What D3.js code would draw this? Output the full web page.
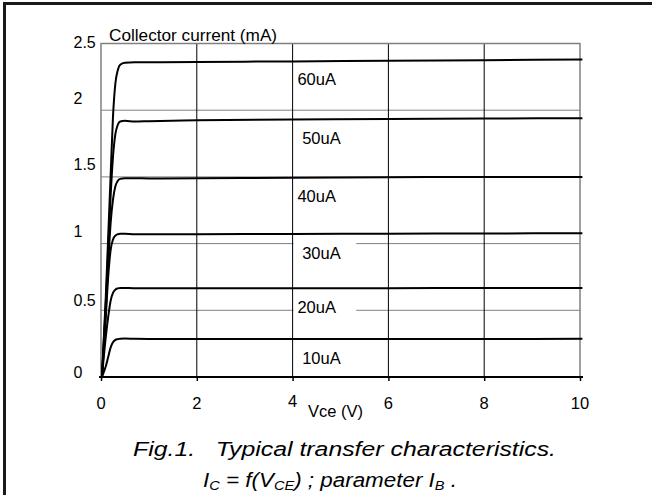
<!DOCTYPE html>
<html>
<head>
<meta charset="utf-8">
<script src="https://cdn.jsdelivr.net/npm/d3@7"></script>
<style>
  html, body { margin: 0; padding: 0; background: #fff; }
  text { font-family: "Liberation Sans", Arial, sans-serif; fill: #000; }
</style>
</head>
<body>
<div id="app"></div>
<script>
// Vce sample points (V) shared by every curve
const vce = [0.02, 0.1, 0.15, 0.2, 0.25, 0.3, 0.35, 0.4, 0.5, 0.7, 1, 2, 4, 6, 8, 10.05];

// Collector current (mA) per base current
const ic10 = [0, 0.08, 0.15, 0.22, 0.26, 0.278, 0.284, 0.287, 0.288, 0.286, 0.285, 0.285, 0.285, 0.285, 0.285, 0.286];
const ic20 = [0, 0.3, 0.45, 0.57, 0.63, 0.655, 0.664, 0.668, 0.668, 0.665, 0.665, 0.665, 0.665, 0.666, 0.667, 0.668];
const ic30 = [0, 0.45, 0.75, 0.95, 1.03, 1.06, 1.07, 1.074, 1.074, 1.07, 1.07, 1.071, 1.072, 1.074, 1.076, 1.078];
const ic40 = [0, 0.5, 0.85, 1.15, 1.33, 1.43, 1.47, 1.485, 1.49, 1.49, 1.488, 1.49, 1.494, 1.497, 1.5, 1.5];
const ic50 = [0, 0.55, 0.95, 1.35, 1.65, 1.82, 1.89, 1.915, 1.92, 1.915, 1.918, 1.924, 1.93, 1.934, 1.938, 1.94];
const ic60 = [0, 0.6, 1.05, 1.5, 1.95, 2.2, 2.3, 2.34, 2.355, 2.36, 2.36, 2.362, 2.366, 2.37, 2.375, 2.38];

const curveLabels = ['10uA', '20uA', '30uA', '40uA', '50uA', '60uA'];
const curves = [ic10, ic20, ic30, ic40, ic50, ic60];

const xTicks = [0, 2, 4, 6, 8, 10];
const yTicks = [0, 0.5, 1, 1.5, 2, 2.5];
const yTickLabels = ['0', '0.5', '1', '1.5', '2', '2.5'];

const svg = d3.select('#app')
  .append('svg')
  .attr('width', 652)
  .attr('height', 495);

const x = d3.scaleLinear().domain([0, 10]).range([101, 580]);
const y = d3.scaleLinear().domain([0, 2.5]).range([377, 43.5]);

// outer frame (top and left only)
svg.append('line')
  .attr('x1', 3).attr('x2', 652).attr('y1', 3.5).attr('y2', 3.5)
  .attr('stroke', '#1a1a1a').attr('stroke-width', 3);
svg.append('line')
  .attr('x1', 4.5).attr('x2', 4.5).attr('y1', 2).attr('y2', 495)
  .attr('stroke', '#1a1a1a').attr('stroke-width', 3);

// horizontal grid, some broken where a label sits
const gapLevels = [0.5, 1];
const gapFrom = 4.02, gapTo = 5.33;
yTicks.filter(v => v > 0 && v < 2.5).forEach(v => {
  const segs = gapLevels.includes(v) ? [[0, gapFrom], [gapTo, 10]] : [[0, 10]];
  segs.forEach(s => {
    svg.append('line')
      .attr('x1', x(s[0])).attr('x2', x(s[1]))
      .attr('y1', y(v)).attr('y2', y(v))
      .attr('stroke', '#808080').attr('stroke-width', 1);
  });
});

// vertical grid
svg.selectAll('.vgrid')
  .data(xTicks.filter(v => v > 0 && v < 10))
  .enter().append('line')
  .attr('x1', d => x(d)).attr('x2', d => x(d))
  .attr('y1', y(2.5)).attr('y2', y(0))
  .attr('stroke', '#000').attr('stroke-width', 1);

// plot border
svg.append('rect')
  .attr('x', x(0)).attr('y', y(2.5))
  .attr('width', x(10) - x(0)).attr('height', y(0) - y(2.5))
  .attr('fill', 'none').attr('stroke', '#808080').attr('stroke-width', 1.5);

// x axis line with ticks
const xAxis = d3.axisBottom(x).tickValues(xTicks).tickSize(4).tickFormat('');
const gx = svg.append('g').attr('transform', `translate(0,${y(0)})`).call(xAxis);
gx.select('.domain').remove();
gx.selectAll('line').attr('stroke', '#000').attr('stroke-width', 1.5);
svg.append('line')
  .attr('x1', x(0) - 2).attr('x2', x(10) + 3)
  .attr('y1', y(0)).attr('y2', y(0))
  .attr('stroke', '#000').attr('stroke-width', 2);

// x tick labels
svg.selectAll('.xlab')
  .data(xTicks)
  .enter().append('text')
  .attr('x', d => x(d))
  .attr('y', d => d === 4 ? 407 : 409)
  .attr('text-anchor', 'middle')
  .attr('font-size', 16.5)
  .text(d => d);

// y tick labels
const yLabShift = d => d === 2.5 ? 4.5 : d === 0 ? 1 : d === 0.5 ? -4 : -6.5;
svg.selectAll('.ylab')
  .data(yTicks)
  .enter().append('text')
  .attr('x', 73.5)
  .attr('y', d => y(d) + yLabShift(d))
  .attr('font-size', 16)
  .text((d, i) => yTickLabels[i]);

svg.append('text')
  .attr('x', 109).attr('y', 40.5)
  .attr('font-size', 17.2)
  .text('Collector current (mA)');

svg.append('text')
  .attr('x', 308).attr('y', 417)
  .attr('font-size', 16.5)
  .text('Vce (V)');

// curves
const line = d3.line()
  .x((d, i) => x(vce[i]))
  .y(d => y(d))
  .curve(d3.curveMonotoneX);

svg.selectAll('.curve')
  .data(curves)
  .enter().append('path')
  .attr('d', line)
  .attr('fill', 'none')
  .attr('stroke', '#000')
  .attr('stroke-width', 2);

// curve labels sit just under each curve
svg.selectAll('.clab')
  .data(curves)
  .enter().append('text')
  .attr('x', (d, i) => x(i % 2 ? 4.1 : 4.2))
  .attr('y', d => y(d[d.length - 1]) + 25.5)
  .attr('font-size', 16.5)
  .text((d, i) => curveLabels[i]);

// caption
svg.append('text')
  .attr('x', 133).attr('y', 456)
  .attr('font-size', 20)
  .attr('font-style', 'italic')
  .attr('textLength', 423)
  .attr('lengthAdjust', 'spacingAndGlyphs')
  .attr('xml:space', 'preserve')
  .text('Fig.1.   Typical transfer characteristics.');

const cap2 = svg.append('text')
  .attr('x', 203).attr('y', 487)
  .attr('font-size', 20)
  .attr('font-style', 'italic')
  .attr('textLength', 254)
  .attr('lengthAdjust', 'spacingAndGlyphs');
cap2.append('tspan').text('I');
cap2.append('tspan').attr('font-size', 13).attr('dy', 3).text('C');
cap2.append('tspan').attr('dy', -3).text(' = f(V');
cap2.append('tspan').attr('font-size', 13).attr('dy', 3).text('CE');
cap2.append('tspan').attr('dy', -3).text(') ; parameter I');
cap2.append('tspan').attr('font-size', 13).attr('dy', 3).text('B');
cap2.append('tspan').attr('dy', -3).text(' .');
</script>
</body>
</html>
